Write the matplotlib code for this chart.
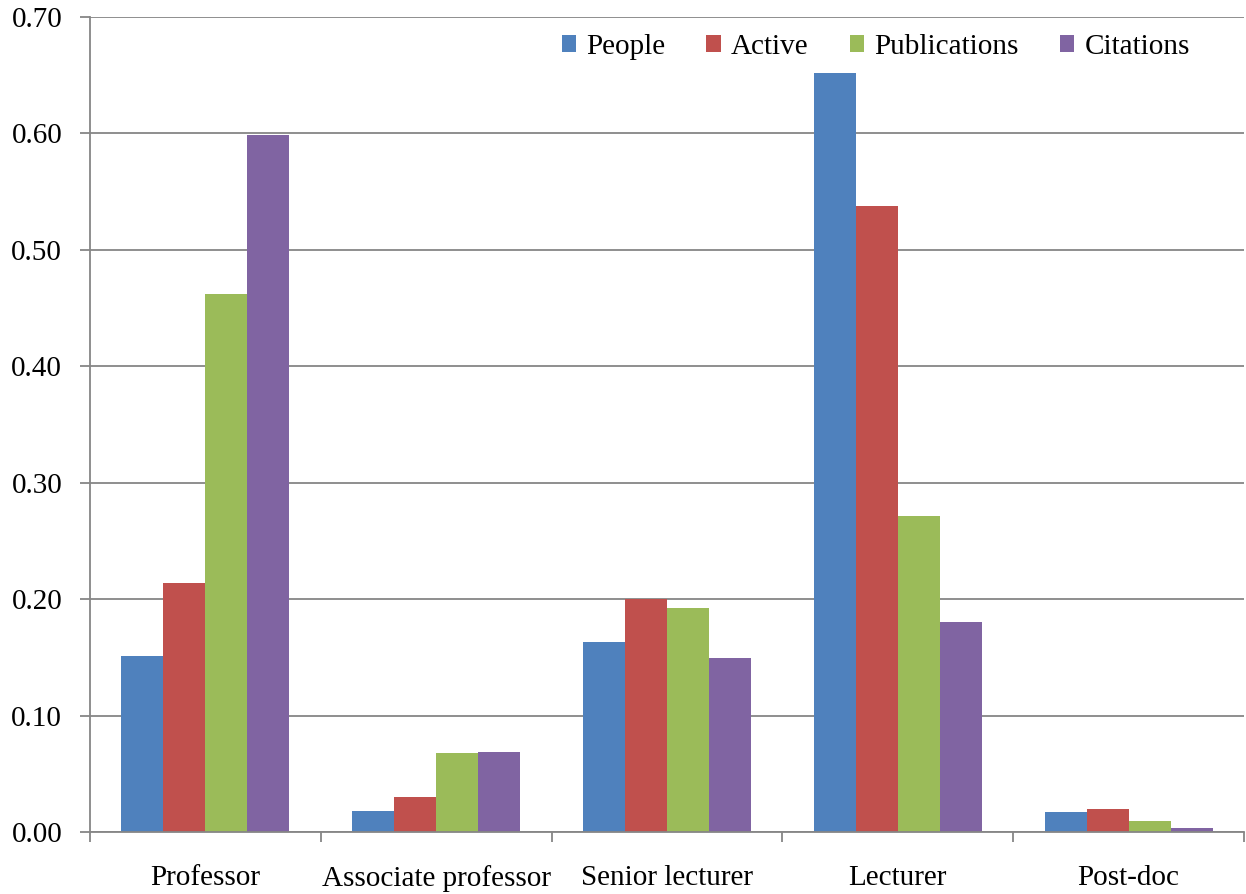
import numpy as np
import matplotlib
matplotlib.use('Agg')
import matplotlib.pyplot as plt

# categories and series
categories = ['Professor', 'Associate professor', 'Senior lecturer', 'Lecturer', 'Post-doc']
people = [0.151, 0.018, 0.163, 0.652, 0.017]
active = [0.214, 0.030, 0.200, 0.538, 0.020]
publications = [0.462, 0.068, 0.192, 0.271, 0.009]
citations = [0.599, 0.069, 0.149, 0.180, 0.003]

series = [('People', people, '#4F81BD'),
          ('Active', active, '#C0504D'),
          ('Publications', publications, '#9BBB59'),
          ('Citations', citations, '#8064A2')]

plt.rcParams['font.family'] = ['Liberation Serif', 'DejaVu Serif']
plt.rcParams['font.size'] = 21

fig = plt.figure(figsize=(12.46, 8.94), dpi=100)
ax = fig.add_axes([0.0722, 0.0694, 0.9262, 0.9116])

# excel style: gap width 150% -> bar width 1/5.5 of category
w = 1.0 / 5.5
x = np.arange(len(categories))
for i, (name, vals, col) in enumerate(series):
    ax.bar(x + (i - 1.5) * w, vals, width=w, color=col, label=name, zorder=3)

ax.set_xlim(-0.5, len(categories) - 0.5)
ax.set_ylim(0, 0.70)
ax.set_yticks(np.arange(0, 0.71, 0.1))
ax.set_yticklabels(['%.2f' % v for v in np.arange(0, 0.71, 0.1)])
ax.yaxis.grid(True, color='#868686', linewidth=1.3, zorder=0)

ax.set_xticks(x)
ax.set_xticklabels(categories)
ax.set_xticks(np.arange(-0.5, len(categories)), minor=True)
ax.tick_params(axis='x', which='major', length=0, pad=24)
ax.tick_params(axis='x', which='minor', length=7, color='#868686', width=1.3)
ax.tick_params(axis='y', length=7, color='#868686', width=1.3, pad=13)

for s in ['top', 'right']:
    ax.spines[s].set_visible(False)
for s in ['left', 'bottom']:
    ax.spines[s].set_color('#868686')
    ax.spines[s].set_linewidth(1.3)
ax.spines['bottom'].set_zorder(4)

ax.legend(loc='upper right', bbox_to_anchor=(0.972, 1.006), ncol=4, frameon=False,
          handlelength=0.5, handleheight=0.5, handletextpad=0.35,
          columnspacing=1.4, borderaxespad=0.35)

fig.savefig('out.png', dpi=100)
